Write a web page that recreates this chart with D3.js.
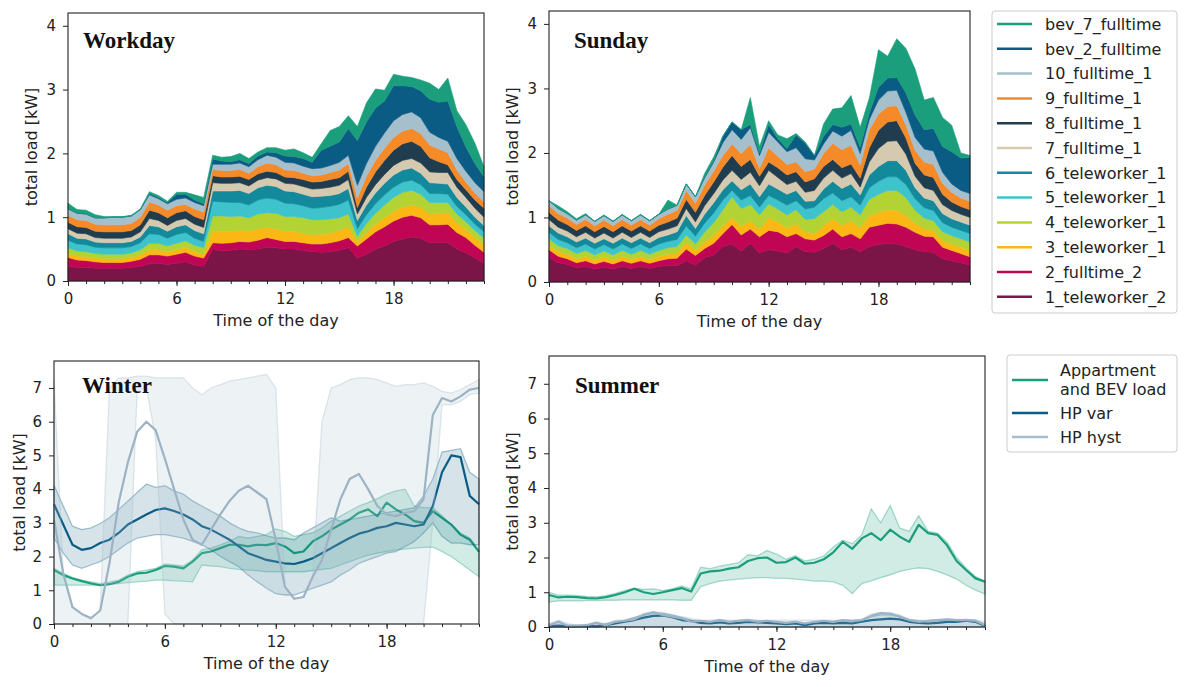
<!DOCTYPE html>
<html>
<head>
<meta charset="utf-8">
<script src="https://cdn.jsdelivr.net/npm/d3@7"></script>
<style>
  body { margin: 0; background: #fff; }
  svg text { font-family: "DejaVu Sans", sans-serif; fill: #222; }
</style>
</head>
<body>
<svg id="fig" width="1188" height="687"></svg>
<script>
////////
// Time axis: half-hour steps of the day
const hours = [0,0.5,1,1.5,2,2.5,3,3.5,4,4.5,5,5.5,6,6.5,7,7.5,8,8.5,9,9.5,10,10.5,11,11.5,
  12,12.5,13,13.5,14,14.5,15,15.5,16,16.5,17,17.5,18,18.5,19,19.5,20,20.5,21,21.5,22,22.5,23];

// Households, bottom of the stack first
const households = ["1_teleworker_2","2_fulltime_2","3_teleworker_1","4_teleworker_1",
  "5_teleworker_1","6_teleworker_1","7_fulltime_1","8_fulltime_1","9_fulltime_1",
  "10_fulltime_1","bev_2_fulltime","bev_7_fulltime"];
const householdColors = ["#7b1548","#c00555","#fbb714","#b3d334","#3ec3cc","#128a9c",
  "#d5cab0","#1f3d4e","#f58a28","#a5bfcd","#0b5c85","#1b9e7c"];

////////
// Workday load per household [kW]
const wd_1_teleworker_2 = [0.23,0.21,0.21,0.20,0.20,0.20,0.20,0.21,0.23,0.27,0.28,0.26,0.28,0.30,0.25,0.23,0.50,0.47,0.48,0.50,0.49,0.50,0.53,0.52,0.50,0.50,0.48,0.46,0.45,0.46,0.48,0.52,0.36,0.42,0.50,0.55,0.62,0.66,0.69,0.67,0.60,0.60,0.60,0.50,0.44,0.36,0.28];
const wd_2_fulltime_2 = [0.14,0.12,0.11,0.10,0.09,0.09,0.09,0.10,0.11,0.14,0.13,0.13,0.14,0.15,0.14,0.13,0.10,0.12,0.12,0.12,0.12,0.14,0.15,0.13,0.12,0.12,0.12,0.12,0.13,0.14,0.15,0.16,0.19,0.24,0.27,0.30,0.32,0.34,0.34,0.32,0.28,0.28,0.29,0.26,0.24,0.20,0.17];
const wd_3_teleworker_1 = [0.06,0.06,0.06,0.06,0.06,0.06,0.06,0.06,0.07,0.08,0.08,0.07,0.07,0.08,0.07,0.06,0.18,0.19,0.18,0.18,0.17,0.18,0.16,0.17,0.16,0.16,0.15,0.14,0.15,0.15,0.16,0.17,0.07,0.10,0.12,0.14,0.15,0.16,0.16,0.17,0.17,0.18,0.18,0.15,0.13,0.12,0.11];
const wd_4_teleworker_1 = [0.09,0.08,0.08,0.07,0.07,0.07,0.07,0.07,0.08,0.10,0.10,0.09,0.10,0.10,0.10,0.10,0.24,0.24,0.23,0.22,0.21,0.23,0.23,0.24,0.23,0.23,0.24,0.24,0.23,0.22,0.20,0.20,0.08,0.14,0.17,0.20,0.22,0.23,0.23,0.20,0.18,0.17,0.16,0.14,0.12,0.11,0.11];
const wd_5_teleworker_1 = [0.12,0.11,0.11,0.10,0.10,0.10,0.10,0.10,0.11,0.15,0.14,0.12,0.14,0.13,0.11,0.10,0.23,0.22,0.22,0.21,0.20,0.22,0.23,0.22,0.21,0.20,0.19,0.18,0.19,0.20,0.21,0.22,0.12,0.14,0.15,0.16,0.16,0.16,0.16,0.15,0.14,0.14,0.13,0.12,0.11,0.10,0.10];
const wd_6_teleworker_1 = [0.10,0.09,0.09,0.08,0.08,0.08,0.08,0.08,0.09,0.13,0.12,0.11,0.12,0.12,0.12,0.12,0.16,0.17,0.18,0.19,0.18,0.19,0.20,0.20,0.19,0.19,0.18,0.18,0.18,0.17,0.17,0.18,0.13,0.15,0.17,0.18,0.19,0.19,0.19,0.18,0.17,0.16,0.16,0.14,0.12,0.11,0.10];
const wd_7_fulltime_1 = [0.08,0.08,0.08,0.07,0.07,0.07,0.07,0.07,0.08,0.11,0.10,0.09,0.10,0.10,0.10,0.10,0.13,0.12,0.12,0.12,0.12,0.12,0.12,0.12,0.12,0.12,0.12,0.12,0.12,0.13,0.13,0.14,0.10,0.12,0.13,0.14,0.15,0.15,0.15,0.16,0.17,0.17,0.18,0.16,0.15,0.14,0.13];
const wd_8_fulltime_1 = [0.10,0.10,0.10,0.10,0.10,0.10,0.10,0.10,0.11,0.13,0.12,0.12,0.12,0.12,0.12,0.12,0.11,0.10,0.10,0.10,0.10,0.10,0.10,0.10,0.10,0.10,0.11,0.11,0.11,0.12,0.12,0.13,0.10,0.16,0.20,0.22,0.24,0.26,0.27,0.26,0.22,0.17,0.12,0.12,0.12,0.13,0.14];
const wd_9_fulltime_1 = [0.11,0.11,0.11,0.11,0.11,0.11,0.11,0.11,0.12,0.13,0.12,0.12,0.11,0.10,0.12,0.12,0.10,0.10,0.10,0.11,0.10,0.11,0.13,0.12,0.11,0.11,0.10,0.10,0.10,0.11,0.12,0.12,0.15,0.17,0.18,0.19,0.20,0.20,0.20,0.20,0.20,0.20,0.19,0.15,0.12,0.11,0.10];
const wd_10_fulltime_1 = [0.10,0.10,0.10,0.10,0.11,0.12,0.12,0.12,0.12,0.11,0.10,0.10,0.10,0.10,0.10,0.10,0.08,0.10,0.10,0.10,0.10,0.11,0.12,0.12,0.12,0.12,0.11,0.11,0.11,0.11,0.12,0.13,0.20,0.20,0.22,0.24,0.26,0.26,0.26,0.25,0.20,0.18,0.18,0.18,0.17,0.16,0.16];
const wd_bev_2_fulltime = [0.01,0.01,0.00,0.00,0.00,0.00,0.00,0.00,0.00,0.02,0.02,0.02,0.08,0.06,0.04,0.03,0.08,0.05,0.04,0.05,0.05,0.06,0.05,0.07,0.10,0.10,0.12,0.10,0.28,0.30,0.32,0.42,0.70,0.65,0.60,0.50,0.55,0.45,0.40,0.42,0.52,0.55,0.63,0.50,0.38,0.30,0.23];
const wd_bev_7_fulltime = [0.08,0.05,0.06,0.05,0.02,0.01,0.01,0.01,0.01,0.03,0.03,0.02,0.03,0.03,0.08,0.10,0.06,0.06,0.08,0.10,0.08,0.06,0.07,0.08,0.09,0.12,0.09,0.08,0.10,0.25,0.24,0.20,0.22,0.30,0.30,0.17,0.18,0.15,0.14,0.17,0.25,0.20,0.36,0.25,0.35,0.32,0.16];

////////
// Sunday load per household [kW]
const su_1_teleworker_2 = [0.38,0.30,0.27,0.22,0.24,0.20,0.23,0.20,0.24,0.21,0.24,0.21,0.24,0.26,0.25,0.33,0.26,0.38,0.42,0.55,0.59,0.48,0.60,0.45,0.50,0.48,0.45,0.55,0.47,0.46,0.52,0.60,0.50,0.54,0.47,0.55,0.58,0.60,0.59,0.55,0.50,0.47,0.46,0.36,0.33,0.30,0.26];
const su_2_fulltime_2 = [0.12,0.10,0.09,0.08,0.09,0.08,0.09,0.08,0.09,0.08,0.09,0.08,0.09,0.10,0.12,0.18,0.15,0.14,0.18,0.20,0.30,0.25,0.22,0.25,0.30,0.30,0.25,0.20,0.20,0.19,0.20,0.22,0.20,0.21,0.20,0.30,0.30,0.31,0.31,0.30,0.27,0.24,0.24,0.18,0.16,0.14,0.13];
const su_3_teleworker_1 = [0.07,0.07,0.07,0.06,0.07,0.06,0.07,0.06,0.07,0.06,0.07,0.06,0.07,0.07,0.08,0.10,0.08,0.10,0.12,0.12,0.11,0.13,0.13,0.12,0.20,0.15,0.14,0.15,0.10,0.10,0.15,0.16,0.18,0.20,0.17,0.18,0.20,0.21,0.21,0.18,0.14,0.12,0.10,0.10,0.10,0.10,0.10];
const su_4_teleworker_1 = [0.10,0.09,0.09,0.08,0.09,0.08,0.09,0.08,0.09,0.08,0.09,0.08,0.09,0.10,0.10,0.12,0.10,0.15,0.20,0.25,0.32,0.28,0.25,0.22,0.21,0.20,0.20,0.22,0.20,0.23,0.22,0.22,0.21,0.21,0.20,0.25,0.28,0.30,0.31,0.28,0.20,0.16,0.15,0.14,0.13,0.13,0.13];
const su_5_teleworker_1 = [0.10,0.10,0.09,0.09,0.10,0.09,0.10,0.09,0.10,0.09,0.10,0.09,0.10,0.10,0.11,0.14,0.12,0.14,0.15,0.15,0.10,0.13,0.14,0.12,0.13,0.14,0.15,0.14,0.16,0.18,0.20,0.18,0.17,0.16,0.15,0.18,0.20,0.21,0.21,0.20,0.18,0.16,0.16,0.14,0.13,0.13,0.13];
const su_6_teleworker_1 = [0.10,0.10,0.09,0.09,0.09,0.09,0.09,0.09,0.09,0.09,0.09,0.09,0.10,0.10,0.12,0.16,0.12,0.14,0.16,0.16,0.15,0.16,0.18,0.16,0.18,0.17,0.17,0.16,0.12,0.10,0.15,0.18,0.19,0.20,0.16,0.20,0.23,0.25,0.25,0.22,0.17,0.15,0.15,0.14,0.13,0.13,0.13];
const su_7_fulltime_1 = [0.10,0.09,0.09,0.08,0.09,0.08,0.09,0.08,0.09,0.08,0.09,0.08,0.09,0.09,0.09,0.11,0.10,0.13,0.14,0.15,0.16,0.16,0.18,0.17,0.21,0.18,0.15,0.14,0.14,0.16,0.17,0.17,0.16,0.16,0.12,0.20,0.28,0.30,0.31,0.25,0.18,0.16,0.16,0.14,0.13,0.12,0.12];
const su_8_fulltime_1 = [0.11,0.11,0.10,0.10,0.10,0.10,0.10,0.10,0.10,0.10,0.10,0.10,0.10,0.11,0.12,0.14,0.15,0.16,0.18,0.20,0.23,0.20,0.20,0.15,0.13,0.15,0.15,0.15,0.16,0.18,0.18,0.17,0.16,0.15,0.14,0.22,0.28,0.30,0.31,0.25,0.20,0.20,0.20,0.16,0.13,0.12,0.12];
const su_9_fulltime_1 = [0.10,0.10,0.10,0.09,0.10,0.09,0.10,0.09,0.10,0.09,0.10,0.09,0.10,0.12,0.12,0.14,0.14,0.16,0.17,0.18,0.18,0.20,0.23,0.12,0.22,0.18,0.16,0.15,0.16,0.15,0.20,0.25,0.28,0.29,0.20,0.28,0.25,0.24,0.23,0.20,0.20,0.20,0.20,0.17,0.15,0.13,0.13];
const su_10_fulltime_1 = [0.08,0.08,0.07,0.07,0.07,0.07,0.07,0.07,0.07,0.07,0.07,0.07,0.07,0.08,0.08,0.10,0.10,0.11,0.14,0.20,0.22,0.22,0.26,0.20,0.24,0.22,0.20,0.22,0.20,0.14,0.15,0.19,0.21,0.23,0.18,0.16,0.22,0.24,0.24,0.20,0.20,0.20,0.21,0.17,0.13,0.12,0.12];
const su_bev_2_fulltime = [0,0,0,0,0,0,0,0,0,0,0,0,0,0,0,0,0,0.02,0.02,0.10,0.12,0.15,0.05,0.04,0.12,0.05,0.05,0.20,0.24,0.07,0.12,0.10,0.14,0.10,0.10,0.10,0.20,0.20,0.20,0.30,0.35,0.30,0.35,0.40,0.50,0.50,0.56];
const su_bev_7_fulltime = [0,0.04,0.03,0.02,0.02,0,0.01,0,0.01,0,0.01,0,0,0.14,0,0,0,0.05,0.06,0,0,0,0.42,0.10,0.06,0.06,0.15,0.02,0.02,0,0.19,0.24,0.30,0.44,0.31,0.23,0.58,0.34,0.60,0.69,0.71,0.46,0.48,0.45,0.41,0.08,0.03];

////////
// Winter / summer: mean line and min-max band per load type [kW]
const loadNames = ["Appartment and BEV load", "HP var", "HP hyst"];
const loadColors = ["#1b9e7c", "#0b5c85", "#a5bccb"];

const wi_app_line = [1.60,1.45,1.35,1.27,1.20,1.15,1.18,1.25,1.40,1.50,1.52,1.60,1.72,1.70,1.65,1.85,2.10,2.15,2.25,2.35,2.35,2.30,2.35,2.34,2.40,2.30,2.10,2.15,2.45,2.60,2.80,2.95,3.10,3.30,3.40,3.20,3.60,3.40,3.25,3.05,3.00,3.35,3.15,2.95,2.65,2.50,2.14];
const wi_app_low  = [1.15,1.15,1.15,1.15,1.15,1.15,1.17,1.20,1.23,1.25,1.27,1.30,1.30,1.28,1.27,1.25,1.75,1.72,1.70,1.65,1.62,1.60,1.58,1.55,1.55,1.55,1.55,1.55,1.58,1.62,1.65,1.75,1.85,1.95,2.04,2.10,2.15,2.20,2.22,2.25,2.27,2.28,2.15,2.00,1.80,1.60,1.40];
const wi_app_high = [1.65,1.50,1.38,1.30,1.25,1.20,1.25,1.30,1.45,1.55,1.60,1.65,1.78,1.75,1.72,1.90,2.20,2.25,2.35,2.45,2.60,2.55,2.60,2.65,2.82,2.75,2.60,2.65,2.70,2.85,3.05,3.20,3.35,3.50,3.60,3.72,3.85,3.95,4.00,3.50,3.45,3.45,3.20,2.95,2.70,2.55,2.20];
const wi_var_line = [3.55,2.95,2.35,2.20,2.25,2.40,2.50,2.70,2.95,3.10,3.25,3.38,3.43,3.35,3.25,3.10,2.90,2.80,2.65,2.50,2.30,2.10,2.00,1.90,1.85,1.80,1.78,1.85,1.95,2.10,2.25,2.40,2.55,2.68,2.75,2.85,2.90,3.00,2.95,2.90,2.95,3.50,4.50,5.00,4.95,3.80,3.55];
const wi_var_low  = [2.55,2.10,1.75,1.65,1.75,1.85,2.00,2.20,2.40,2.55,2.60,2.65,2.65,2.60,2.55,2.45,2.35,2.20,2.00,1.85,1.70,1.45,1.25,1.06,0.90,0.86,0.86,0.95,1.06,1.15,1.25,1.45,1.60,1.80,1.90,2.00,2.10,2.15,2.30,2.45,2.70,3.00,2.60,2.40,2.40,2.35,2.35];
const wi_var_high = [4.12,3.50,2.90,2.80,2.85,2.98,3.15,3.40,3.65,3.90,4.15,4.05,4.10,3.95,3.85,3.65,3.50,3.35,3.20,3.00,2.85,2.75,2.70,2.62,2.55,2.55,2.50,2.70,2.85,3.00,3.15,3.05,3.10,3.15,3.20,3.25,3.30,3.35,3.40,3.45,3.80,4.30,5.10,5.15,5.20,4.50,4.30];
const wi_hyst_line = [3.10,1.50,0.50,0.30,0.17,0.40,1.80,3.60,4.80,5.70,6.00,5.75,4.90,4.00,3.10,2.50,2.35,2.80,3.25,3.65,3.95,4.10,3.90,3.70,2.50,1.10,0.75,0.80,1.40,1.90,2.80,3.70,4.30,4.45,4.00,3.50,3.25,3.20,3.30,3.35,3.70,6.20,6.70,6.60,6.75,6.95,7.00];
const wi_hyst_low  = [0,0,0,0,0,0,0,0,0,6.90,7.00,5.50,0.30,0,0,0,0,0,0,0,0,0,0,0,0,0,0,0,0,0,0,0,0,0,0,0,0,0,0,0,0,3.00,6.50,6.50,6.60,6.80,6.85];
const wi_hyst_high = [7.25,1.50,0.50,0.30,0.20,0.40,7.00,7.30,7.30,7.35,7.35,7.30,7.30,7.30,7.30,7.00,6.80,7.00,7.10,7.20,7.25,7.30,7.35,7.40,7.00,1.10,0.75,0.80,1.40,6.00,7.00,7.10,7.25,7.30,7.30,7.25,7.15,7.05,7.10,7.10,7.15,7.05,6.90,6.85,6.95,7.10,7.25];

const sm_app_line = [0.92,0.85,0.87,0.86,0.83,0.82,0.86,0.92,1.00,1.10,1.00,0.95,1.00,1.06,1.12,1.02,1.54,1.60,1.62,1.68,1.72,1.90,1.98,2.00,1.85,1.87,2.00,1.82,1.85,1.95,2.15,2.45,2.25,2.55,2.70,2.50,2.80,2.60,2.45,2.94,2.70,2.65,2.35,1.90,1.64,1.40,1.30];
const sm_app_low  = [0.72,0.75,0.75,0.75,0.76,0.76,0.77,0.77,0.78,0.78,0.78,0.78,0.78,0.78,0.77,0.77,1.16,1.25,1.32,1.35,1.38,1.40,1.42,1.42,1.40,1.40,1.38,1.35,1.32,1.32,1.30,1.20,0.96,1.25,1.33,1.42,1.50,1.60,1.66,1.70,1.68,1.60,1.50,1.38,1.20,1.06,0.95];
const sm_app_high = [1.00,0.92,0.92,0.90,0.88,0.87,0.90,0.97,1.05,1.12,1.08,1.10,1.05,1.10,1.18,1.10,1.72,1.68,1.75,1.80,1.85,2.08,2.05,2.20,2.10,1.95,2.05,1.90,1.95,2.05,2.30,2.50,2.40,2.65,3.40,3.00,3.50,2.85,2.75,3.20,2.75,2.70,2.45,2.00,1.70,1.45,1.32];
const sm_var_line = [0.02,0.03,0.02,0.02,0.03,0.02,0.05,0.10,0.15,0.20,0.27,0.32,0.33,0.28,0.20,0.17,0.12,0.10,0.13,0.10,0.12,0.15,0.13,0.12,0.10,0.08,0.10,0.05,0.10,0.12,0.10,0.12,0.10,0.15,0.20,0.22,0.24,0.22,0.15,0.12,0.10,0.12,0.15,0.15,0.18,0.15,0.03];
const sm_var_low  = [0,0,0,0,0,0,0,0,0,0,0,0,0,0,0,0,0,0,0,0,0,0,0,0,0,0,0,0,0,0,0,0,0,0,0,0,0,0,0,0,0,0,0,0,0,0,0];
const sm_var_high = [0.05,0.08,0.05,0.05,0.06,0.05,0.10,0.15,0.20,0.28,0.35,0.40,0.40,0.35,0.28,0.20,0.18,0.15,0.18,0.15,0.18,0.20,0.18,0.17,0.15,0.12,0.15,0.10,0.15,0.17,0.15,0.17,0.15,0.20,0.30,0.35,0.35,0.30,0.22,0.18,0.16,0.18,0.20,0.20,0.22,0.20,0.08];
const sm_hyst_line = [0.05,0.15,0.03,0.03,0.05,0.12,0.05,0.15,0.18,0.22,0.35,0.42,0.35,0.30,0.25,0.15,0.18,0.15,0.20,0.15,0.18,0.20,0.15,0.18,0.15,0.12,0.15,0.10,0.15,0.18,0.15,0.20,0.18,0.20,0.32,0.40,0.38,0.30,0.20,0.15,0.18,0.20,0.22,0.20,0.20,0.18,0.05];
const sm_hyst_low  = [0,0,0,0,0,0,0,0,0,0,0,0,0,0,0,0,0,0,0,0,0,0,0,0,0,0,0,0,0,0,0,0,0,0,0,0,0,0,0,0,0,0,0,0,0,0,0];
const sm_hyst_high = [0.10,0.20,0.10,0.05,0.08,0.15,0.10,0.20,0.20,0.25,0.40,0.45,0.42,0.35,0.30,0.25,0.20,0.20,0.22,0.20,0.20,0.22,0.20,0.20,0.20,0.20,0.20,0.20,0.20,0.20,0.20,0.20,0.20,0.22,0.38,0.42,0.42,0.35,0.22,0.20,0.20,0.22,0.22,0.22,0.22,0.20,0.15];

const majorHours = [0, 6, 12, 18];
const minorHours = [0,1,2,3,4,5,6,7,8,9,10,11,12,13,14,15,16,17,18,19,20,21,22,23];


////////
// Build tables for d3.stack
function buildTable(seriesList) {
  return hours.map((h, i) => {
    let row = { hour: h };
    households.forEach((k, j) => { row[k] = seriesList[j][i]; });
    return row;
  });
}

const workdayTable = buildTable([wd_1_teleworker_2, wd_2_fulltime_2, wd_3_teleworker_1,
  wd_4_teleworker_1, wd_5_teleworker_1, wd_6_teleworker_1, wd_7_fulltime_1, wd_8_fulltime_1,
  wd_9_fulltime_1, wd_10_fulltime_1, wd_bev_2_fulltime, wd_bev_7_fulltime]);
const sundayTable = buildTable([su_1_teleworker_2, su_2_fulltime_2, su_3_teleworker_1,
  su_4_teleworker_1, su_5_teleworker_1, su_6_teleworker_1, su_7_fulltime_1, su_8_fulltime_1,
  su_9_fulltime_1, su_10_fulltime_1, su_bev_2_fulltime, su_bev_7_fulltime]);

const winterLoads = [
  { line: wi_app_line, low: wi_app_low, high: wi_app_high },
  { line: wi_var_line, low: wi_var_low, high: wi_var_high },
  { line: wi_hyst_line, low: wi_hyst_low, high: wi_hyst_high }
];
const summerLoads = [
  { line: sm_app_line, low: sm_app_low, high: sm_app_high },
  { line: sm_var_line, low: sm_var_low, high: sm_var_high },
  { line: sm_hyst_line, low: sm_hyst_low, high: sm_hyst_high }
];


////////
// SVG and panels
let svg = d3.select("#fig");

function makePanel(box, yMax, yTicks, title, labelGap) {
  let x = d3.scaleLinear().domain([0, 23]).range([box.l, box.r]);
  let y = d3.scaleLinear().domain([0, yMax]).range([box.b, box.t]);
  let g = svg.append("g");
  let marks = g.append("g");

  // x axis, major + minor ticks
  let xMinor = d3.axisBottom(x).tickValues(minorHours).tickSize(3).tickFormat("");
  let xMajor = d3.axisBottom(x).tickValues(majorHours).tickSize(5).tickPadding(7)
    .tickFormat(d3.format("d"));
  let yAxis = d3.axisLeft(y).tickValues(yTicks).tickSize(5).tickPadding(7)
    .tickFormat(d3.format("d"));

  let axes = g.append("g");
  axes.append("g").attr("transform", `translate(0,${box.b})`).call(xMinor);
  axes.append("g").attr("transform", `translate(0,${box.b})`).call(xMajor);
  axes.append("g").attr("transform", `translate(${box.l},0)`).call(yAxis);
  axes.selectAll(".domain").remove();
  axes.selectAll(".tick line").attr("stroke", "#222").attr("stroke-width", 1);
  axes.selectAll(".tick text").attr("font-size", 15).attr("fill", "#222")
    .attr("font-family", "DejaVu Sans, sans-serif");

  // frame
  g.append("rect")
    .attr("x", box.l).attr("y", box.t)
    .attr("width", box.r - box.l).attr("height", box.b - box.t)
    .attr("fill", "none").attr("stroke", "#222").attr("stroke-width", 1.1);

  // labels
  g.append("text")
    .attr("x", (box.l + box.r) / 2).attr("y", box.b + 45)
    .attr("text-anchor", "middle").attr("font-size", 16)
    .text("Time of the day");
  g.append("text")
    .attr("transform", `translate(${box.l - labelGap},${(box.t + box.b) / 2}) rotate(-90)`)
    .attr("text-anchor", "middle").attr("font-size", 16)
    .text("total load [kW]");
  g.append("text")
    .attr("x", box.title[0]).attr("y", box.title[1])
    .attr("font-weight", "bold").attr("font-size", 23)
    .style("font-family", "'Liberation Serif', serif")
    .style("fill", "#111")
    .text(title);

  return { x, y, marks };
}

const wdBox = { l: 68, r: 484, t: 13, b: 281, title: [83, 48] };
const suBox = { l: 549, r: 970, t: 11, b: 282, title: [574, 48] };
const wiBox = { l: 54, r: 479, t: 361, b: 624, title: [82, 393] };
const smBox = { l: 549, r: 985, t: 356, b: 627, title: [575, 393] };


////////
// Stacked household loads
function drawStack(panel, table) {
  let stacked = d3.stack().keys(households)(table);
  let area = d3.area()
    .x(d => panel.x(d.data.hour))
    .y0(d => panel.y(d[0]))
    .y1(d => panel.y(d[1]));
  panel.marks.selectAll("path.layer")
    .data(stacked)
    .enter()
    .append("path")
    .attr("class", "layer")
    .attr("d", area)
    .attr("fill", (d, i) => householdColors[i])
    .attr("stroke", (d, i) => householdColors[i])
    .attr("stroke-width", 0.6);
}

let workday = makePanel(wdBox, 4.2, [0, 1, 2, 3, 4], "Workday", 31);
drawStack(workday, workdayTable);
let sunday = makePanel(suBox, 4.2, [0, 1, 2, 3, 4], "Sunday", 31);
drawStack(sunday, sundayTable);


////////
// Seasonal lines with shaded bands
const bandOpacity = [0.2, 0.17, 0.2];
const lineColors = ["#1b9e7c", "#0b5c85", "#9db3c3"];

function drawSeason(panel, loads) {
  loads.forEach((s, k) => {
    let rows = hours.map((h, i) => ({ hour: h, v: s.line[i], lo: s.low[i], hi: s.high[i] }));
    let band = d3.area()
      .x(d => panel.x(d.hour))
      .y0(d => panel.y(d.lo))
      .y1(d => panel.y(d.hi));
    let line = d3.line()
      .x(d => panel.x(d.hour))
      .y(d => panel.y(d.v));
    panel.marks.append("path")
      .attr("d", band(rows))
      .attr("fill", loadColors[k]).attr("fill-opacity", bandOpacity[k])
      .attr("stroke", loadColors[k]).attr("stroke-opacity", 0.35)
      .attr("stroke-width", 1.3);
    panel.marks.append("path")
      .attr("d", line(rows))
      .attr("fill", "none")
      .attr("stroke", lineColors[k])
      .attr("stroke-width", 2.2)
      .attr("stroke-linejoin", "round");
  });
}

let winter = makePanel(wiBox, 7.8, [0, 1, 2, 3, 4, 5, 6, 7], "Winter", 29);
drawSeason(winter, winterLoads);
let summer = makePanel(smBox, 7.8, [0, 1, 2, 3, 4, 5, 6, 7], "Summer", 31);
drawSeason(summer, summerLoads);


////////
// Legends
function legendBox(x, y, w, h) {
  svg.append("rect")
    .attr("x", x).attr("y", y).attr("width", w).attr("height", h)
    .attr("rx", 3).attr("fill", "#fff").attr("fill-opacity", 0.8)
    .attr("stroke", "#cccccc").attr("stroke-width", 1);
}

legendBox(992, 11, 185, 302);
let legendOrder = households.slice().reverse();
let legendColors = householdColors.slice().reverse();
let leg1 = svg.append("g");
legendOrder.forEach((name, i) => {
  let yy = 24 + i * 24.8;
  leg1.append("line")
    .attr("x1", 997).attr("x2", 1032).attr("y1", yy).attr("y2", yy)
    .attr("stroke", legendColors[i]).attr("stroke-width", 2.5);
  leg1.append("text")
    .attr("x", 1045).attr("y", yy).attr("dy", "0.36em")
    .attr("font-size", 16).text(name);
});

legendBox(1007, 355, 170, 97);
let leg2 = svg.append("g");
const leg2Y = [380, 413, 437];
loadNames.forEach((name, i) => {
  leg2.append("line")
    .attr("x1", 1012).attr("x2", 1048).attr("y1", leg2Y[i]).attr("y2", leg2Y[i])
    .attr("stroke", loadColors[i]).attr("stroke-width", 2.5);
  if (i === 0) {
    let t = leg2.append("text").attr("font-size", 16);
    t.append("tspan").attr("x", 1060).attr("y", 370).attr("dy", "0.36em").text("Appartment");
    t.append("tspan").attr("x", 1060).attr("y", 389).attr("dy", "0.36em").text("and BEV load");
  } else {
    leg2.append("text")
      .attr("x", 1060).attr("y", leg2Y[i]).attr("dy", "0.36em")
      .attr("font-size", 16).text(name);
  }
});
</script>
</body>
</html>
